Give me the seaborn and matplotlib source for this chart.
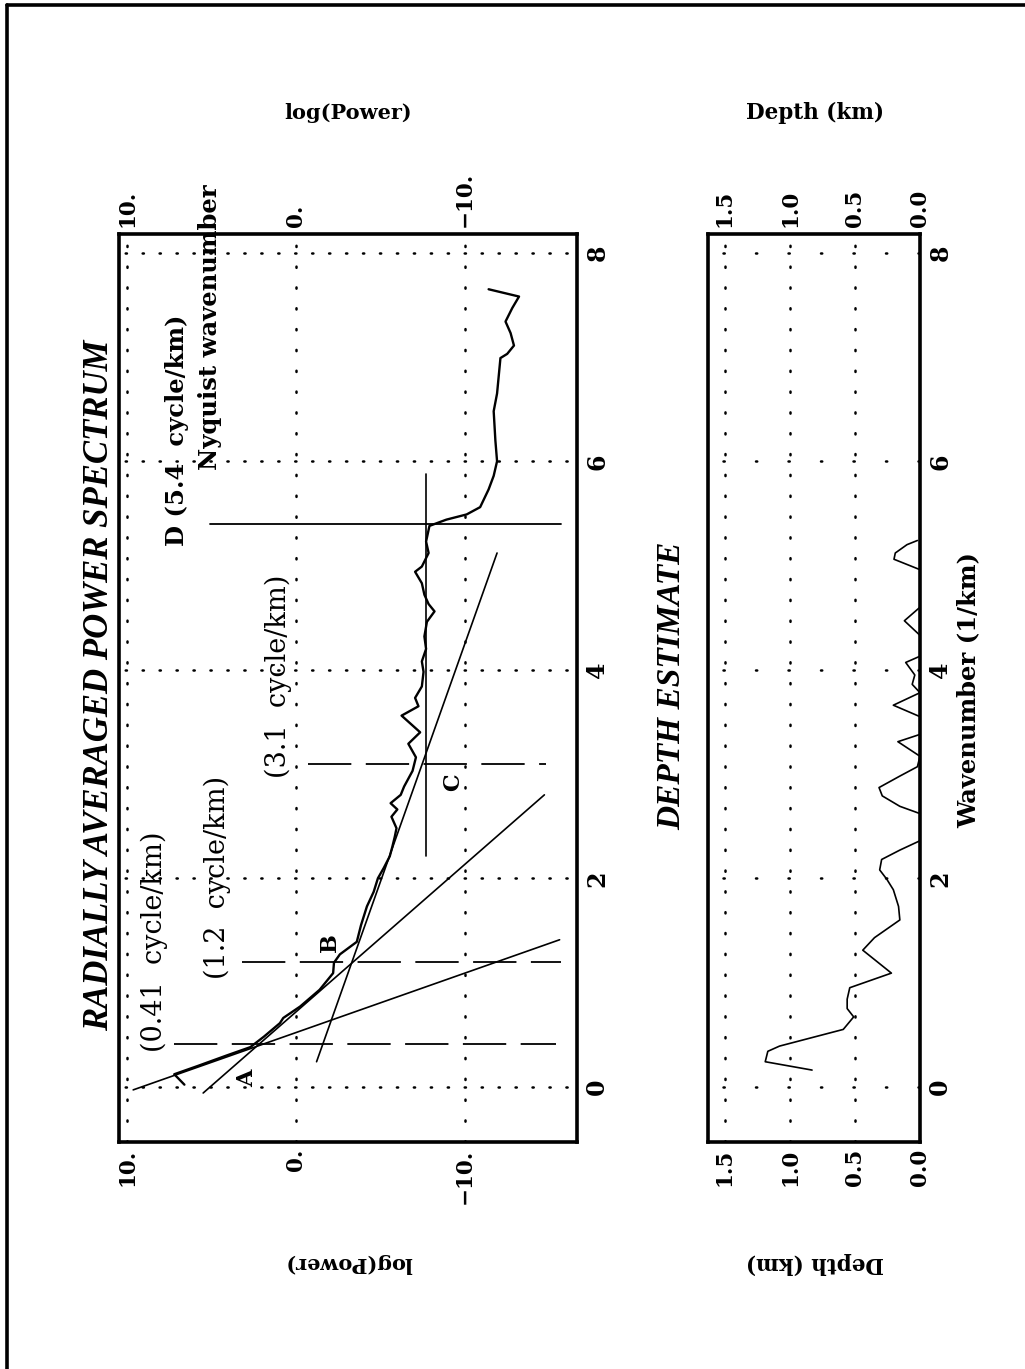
import matplotlib
matplotlib.use("Agg")
import matplotlib.pyplot as plt
from matplotlib.lines import Line2D
import seaborn as sns

# ---- data ----
# radially averaged power spectrum: wavenumber (1/km) and log(power)
spec_k = [0.02, 0.12, 0.20, 0.30, 0.38, 0.48, 0.61, 0.66, 0.77, 0.93, 1.09, 1.19,
          1.27, 1.39, 1.55, 1.73, 1.87, 2.00, 2.10, 2.21, 2.30, 2.40, 2.48, 2.59,
          2.66, 2.72, 2.80, 2.88, 3.03, 3.16, 3.29, 3.40, 3.56, 3.65, 3.73, 3.84,
          3.98, 4.08, 4.20, 4.32, 4.46, 4.56, 4.63, 4.72, 4.83, 4.94, 4.99, 5.12,
          5.23, 5.38, 5.44, 5.49, 5.56, 5.73, 5.86, 6.00, 6.20, 6.48, 6.65, 6.82,
          6.99, 7.03, 7.11, 7.23, 7.34, 7.47, 7.58, 7.65]
spec_p = [6.6, 7.2, 5.8, 4.1, 2.7, 1.9, 0.95, 0.75, -0.25, -1.4, -2.2, -2.25,
          -2.6, -3.6, -3.85, -4.2, -4.6, -4.85, -5.2, -5.55, -5.7, -5.85, -5.95, -5.65,
          -6.0, -5.6, -6.2, -6.4, -6.9, -7.1, -6.65, -7.35, -6.25, -7.25, -7.05, -7.45,
          -7.55, -7.45, -7.7, -7.6, -7.75, -8.2, -7.85, -7.6, -7.45, -7.05, -7.45, -7.85,
          -7.7, -7.9, -8.9, -10.1, -10.9, -11.4, -11.7, -11.9, -11.8, -11.7, -11.9, -12.0,
          -12.1, -12.5, -12.9, -12.7, -12.4, -12.8, -13.2, -11.4]

# fitted straight segments (wavenumber ends, log power ends)
lineA_k, lineA_p = [-0.03, 1.41], [9.63, -15.6]
lineB_k, lineB_p = [-0.06, 2.80], [5.49, -14.7]
lineC_k, lineC_p = [0.24, 5.12], [-1.22, -11.9]
flat_k, flat_p = [2.21, 5.88], [-7.7, -7.7]

# break points in cycle/km with the log power span of their marker lines
break_k = [0.41, 1.2, 3.1, 5.4]
break_p0 = [7.2, 3.2, -0.7, 5.1]
break_p1 = [-15.4, -15.7, -14.8, -15.7]

# depth estimate (km) against wavenumber
dep_k = [0.16, 0.24, 0.34, 0.39, 0.55, 0.67, 0.75, 0.84, 0.95, 1.09, 1.31, 1.43,
         1.60, 1.73, 1.89, 1.99, 2.08, 2.18, 2.27, 2.36, 2.62, 2.69, 2.79, 2.87,
         2.98, 3.07, 3.17, 3.31, 3.38, 3.55, 3.66, 3.78, 3.86, 3.95, 4.07, 4.13,
         4.33, 4.47, 4.60, 4.96, 5.06, 5.12, 5.20, 5.24]
dep_d = [0.83, 1.19, 1.17, 1.08, 0.59, 0.51, 0.56, 0.56, 0.54, 0.22, 0.44, 0.35,
         0.155, 0.165, 0.205, 0.255, 0.31, 0.295, 0.155, 0.0, 0.0, 0.155, 0.29, 0.315,
         0.155, 0.02, 0.0, 0.17, 0.0, 0.0, 0.205, 0.0, 0.06, 0.04, 0.11, 0.0,
         0.0, 0.12, 0.0, 0.0, 0.2, 0.19, 0.1, 0.02]

power_ticks = [10, 0, -10]
power_labels = ["10.", "0.", "\u221210."]
wave_ticks = [0, 2, 4, 6, 8]
depth_ticks = [1.5, 1.0, 0.5, 0.0]
depth_labels = ["1.5", "1.0", "0.5", "0.0"]

# ---- style ----
sns.set_style("white")
plt.rcParams["font.family"] = ["DejaVu Serif"]
plt.rcParams["text.color"] = "black"
plt.rcParams["xtick.color"] = "black"
plt.rcParams["ytick.color"] = "black"
plt.rcParams["axes.labelcolor"] = "black"

W, H = 1025, 1369
fig = plt.figure(figsize=(W / 100, H / 100), dpi=100)

def fx(px):
    return px / W

def fy(py):
    return 1 - py / H

ax1 = fig.add_axes([fx(119), fy(1142), fx(577 - 119), (1142 - 234) / H])
ax2 = fig.add_axes([fx(708), fy(1142), fx(920 - 708), (1142 - 234) / H])

# page frame (only the left and top edges fall inside the picture)
fig.add_artist(Line2D([fx(7), fx(7)], [0, fy(5)], color="k", lw=2.6))
fig.add_artist(Line2D([fx(7), 1], [fy(5), fy(5)], color="k", lw=2.6))

for ax in (ax1, ax2):
    for s in ax.spines.values():
        s.set_linewidth(2.6)
        s.set_color("k")
    ax.set_ylim(-0.53, 8.18)
    ax.set_yticks(wave_ticks)
    ax.set_yticklabels([str(t) for t in wave_ticks], va="center")
    ax.tick_params(axis="x", length=0, top=False, bottom=False, labeltop=True,
                   labelbottom=True, labelrotation=90, pad=5, labelsize=15.5)
    ax.tick_params(axis="y", length=0, left=False, right=False, labelleft=False,
                   labelright=True, labelrotation=90, pad=6, labelsize=17)
    for lbl in ax.get_xticklabels() + ax.get_yticklabels():
        lbl.set_fontweight("bold")
    ax.set_xlabel("")
    ax.set_ylabel("")

dot = dict(color="k", lw=1.8, dash_capstyle="round")

# ---- power spectrum panel ----
ax1.set_xlim(10.47, -16.63)
ax1.set_xticks(power_ticks)
ax1.set_xticklabels(power_labels, fontweight="bold")
ax1.xaxis.grid(True, linestyle=(0, (0.5, 7.83)), **dot)
ax1.yaxis.grid(True, linestyle=(4.3, (0.5, 6.28)), **dot)

sns.lineplot(x=spec_p, y=spec_k, orient="y", sort=False, estimator=None,
             color="k", lw=1.7, ax=ax1)
for kk, pp in [(lineA_k, lineA_p), (lineB_k, lineB_p), (lineC_k, lineC_p), (flat_k, flat_p)]:
    ax1.plot(pp, kk, color="k", lw=1.2)
for i, kb in enumerate(break_k):
    ls = "-" if i == 3 else (0, (24, 8))
    ax1.plot([break_p0[i], break_p1[i]], [kb, kb], color="k", lw=1.3, linestyle=ls)

note = dict(rotation=90, ha="center", va="bottom", fontsize=19.5)
ax1.text(8.4, 0.335, "(0.41  cycle/km)", **note)
ax1.text(4.67, 1.03, "(1.2  cycle/km)", **note)
ax1.text(1.07, 2.96, "(3.1  cycle/km)", **note)
ax1.text(7.04, 5.19, "D (5.4  cycle/km)", fontweight="bold", rotation=90,
         ha="center", va="bottom", fontsize=17.5)
ax1.text(5.09, 5.92, "Nyquist wavenumber", fontweight="bold", rotation=90,
         ha="center", va="bottom", fontsize=17.5)
letter = dict(rotation=90, ha="center", va="center", fontsize=16, fontweight="bold")
ax1.text(2.9, 0.077, "A", **letter)
ax1.text(-2.0, 1.38, "B", **letter)
ax1.text(-9.3, 2.92, "C", **letter)

# ---- depth panel ----
ax2.set_xlim(1.63, 0)
ax2.set_xticks(depth_ticks)
ax2.set_xticklabels(depth_labels, fontweight="bold")
ax2.xaxis.grid(True, linestyle=(0, (0.5, 7.83)), **dot)
ax2.yaxis.grid(True, linestyle=(7, (0.5, 12.5)), **dot)
sns.lineplot(x=dep_d, y=dep_k, orient="y", sort=False, estimator=None,
             color="k", lw=1.2, ax=ax2, clip_on=False)

# ---- titles and axis names ----
fig.text(fx(100), fy(685), "RADIALLY AVERAGED POWER SPECTRUM", rotation=90,
         ha="center", va="center", fontsize=25, fontweight="bold", fontstyle="italic",
         family=["Liberation Serif", "DejaVu Serif"])
fig.text(fx(672), fy(686), "DEPTH ESTIMATE", rotation=90, ha="center", va="center",
         fontsize=24, fontweight="bold", fontstyle="italic",
         family=["Liberation Serif", "DejaVu Serif"])
fig.text(fx(348), fy(113), "log(Power)", ha="center", va="center", fontsize=15,
         fontweight="bold")
fig.text(fx(348), fy(1263), "log(Power)", ha="center", va="center", fontsize=15,
         fontweight="bold", rotation=180)
fig.text(fx(815), fy(113), "Depth (km)", ha="center", va="center", fontsize=15.5,
         fontweight="bold")
fig.text(fx(815), fy(1263), "Depth (km)", ha="center", va="center", fontsize=15.5,
         fontweight="bold", rotation=180)
fig.text(fx(968), fy(690), "Wavenumber (1/km)", rotation=90, ha="center", va="center",
         fontsize=17.5, fontweight="bold")

fig.savefig("out.png", dpi=100)
